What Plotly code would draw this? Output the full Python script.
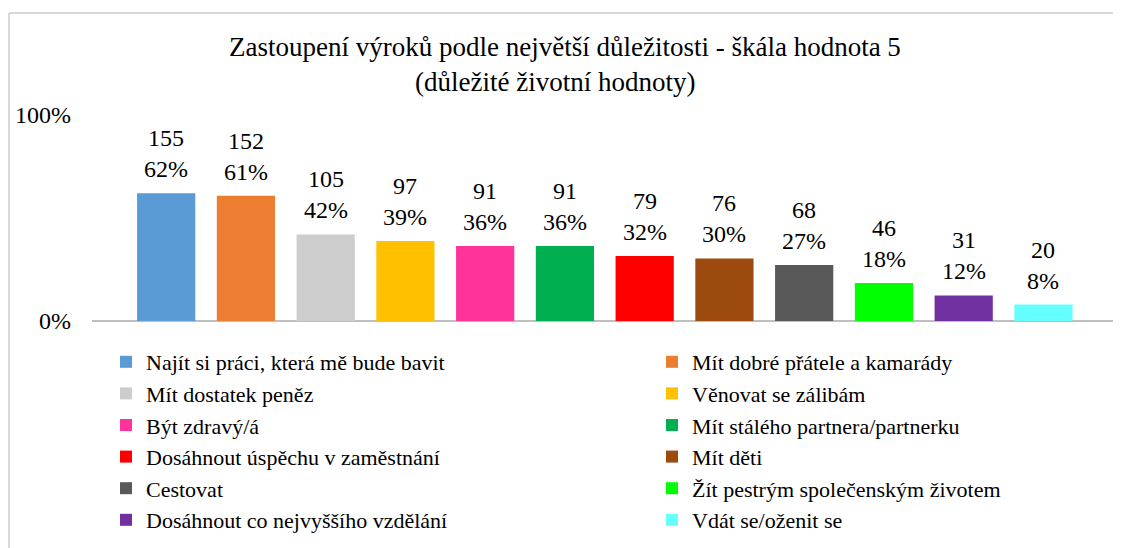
import plotly.graph_objects as go

# Data (N = 250 respondents)
statements = [
    "Najít si práci, která mě bude bavit",
    "Mít dobré přátele a kamarády",
    "Mít dostatek peněz",
    "Věnovat se zálibám",
    "Být zdravý/á",
    "Mít stálého partnera/partnerku",
    "Dosáhnout úspěchu v zaměstnání",
    "Mít děti",
    "Cestovat",
    "Žít pestrým společenským životem",
    "Dosáhnout co nejvyššího vzdělání",
    "Vdát se/oženit se",
]
counts = [155, 152, 105, 97, 91, 91, 79, 76, 68, 46, 31, 20]
shares = [0.62, 0.608, 0.42, 0.388, 0.364, 0.364, 0.316, 0.304, 0.272, 0.184, 0.124, 0.08]
colors = [
    "#5B9BD5", "#ED7D31", "#CDCDCD", "#FFC000", "#FF3399", "#00B050",
    "#FF0000", "#9C4A0E", "#595959", "#00FF00", "#7030A0", "#66FFFF",
]
title_lines = [
    "Zastoupení výroků podle největší důležitosti - škála hodnota 5",
    "(důležité životní hodnoty)",
]

# page has an 8px body margin, so the figure is drawn 8px right/down
OFF = 8
W, H = 1121 - OFF, 548 - OFF
# plot area on screen: x 92..1120, y 115..321
ML, MR, MT, MB = 92 - OFF, W - (1120 - OFF), 115 - OFF, H - (321 - OFF)
FONT = "Liberation Serif"


def px_x(x):
    return (x - OFF - ML) / (W - ML - MR)


def px_y(y):
    return (H - MB - (y - OFF)) / (H - MT - MB)


fig = go.Figure()
for i, name in enumerate(statements):
    fig.add_trace(
        go.Bar(
            x=[i],
            y=[shares[i]],
            name=name,
            legend="legend" if i % 2 == 0 else "legend2",
            marker=dict(color=colors[i], line=dict(width=0)),
            hoverinfo="name+y",
        )
    )
    # data label: count and share above the bar
    fig.add_annotation(
        x=i, y=shares[i], xref="x", yref="y",
        text=f"{counts[i]}<br>{shares[i]:.0%}",
        xanchor="center", yanchor="bottom", yshift=9,
        showarrow=False,
        font=dict(family=FONT, size=24, color="#000000"),
    )

# chart frame (light gray border, cropped on the right / bottom)
frame = dict(type="line", xref="paper", yref="paper", line=dict(color="#D9D9D9", width=2))
fig.add_shape(frame, x0=px_x(9), x1=px_x(1121), y0=px_y(13), y1=px_y(13))
fig.add_shape(frame, x0=px_x(9), x1=px_x(9), y0=px_y(13), y1=px_y(548))

for text, cx, cy in [(title_lines[0], 565, 47), (title_lines[1], 555, 82)]:
    fig.add_annotation(text=text, x=px_x(cx), y=px_y(cy), xref="paper", yref="paper",
                       xanchor="center", yanchor="middle", showarrow=False,
                       font=dict(family=FONT, size=27, color="#000000"))

legend_style = dict(
    orientation="v",
    xanchor="left",
    yanchor="top",
    y=px_y(341),
    font=dict(family=FONT, size=22, color="#000000"),
    traceorder="normal",
    bgcolor="rgba(0,0,0,0)",
    tracegroupgap=0,
)

fig.update_layout(
    width=W,
    height=H,
    margin=dict(l=ML, r=MR, t=MT, b=MB, autoexpand=False),
    paper_bgcolor="white",
    plot_bgcolor="white",
    barmode="relative",
    bargap=0.27,
    showlegend=True,
    legend=dict(legend_style, x=px_x(106)),
    legend2=dict(legend_style, x=px_x(652)),
    xaxis=dict(
        range=[-0.93, 11.96],
        showticklabels=False,
        showgrid=False,
        zeroline=False,
        showline=False,
        ticks="",
    ),
    yaxis=dict(
        range=[0, 1],
        tickvals=[0, 1],
        tickformat=".0%",
        showgrid=True,
        gridcolor="#D9D9D9",
        gridwidth=2,
        zeroline=True,
        zerolinecolor="#BFBFBF",
        zerolinewidth=2,
        ticks="",
        ticklabelstandoff=20,
        tickfont=dict(family=FONT, size=24, color="#000000"),
    ),
)

fig.write_html("out.html")
